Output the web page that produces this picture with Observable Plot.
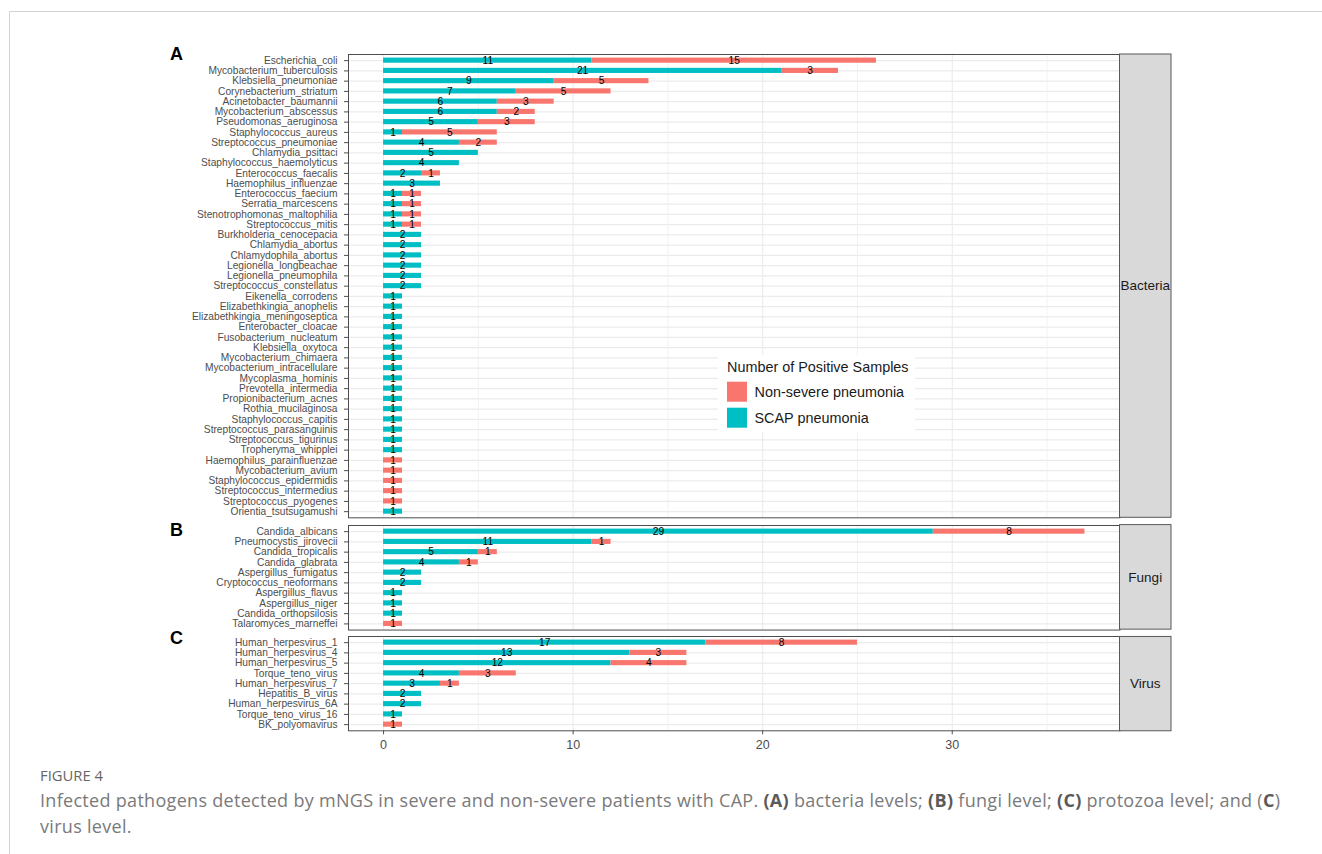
<!DOCTYPE html>
<html>
<head>
<meta charset="utf-8">
<script src="https://cdn.jsdelivr.net/npm/d3@7"></script>
<script src="https://cdn.jsdelivr.net/npm/@observablehq/plot@0.6"></script>
<style>
html, body { margin: 0; padding: 0; overflow: hidden; background: #fff; }
#page { position: relative; width: 1322px; height: 854px; overflow: hidden; font-family: "Liberation Sans", Arial, sans-serif; }
.panel { position: absolute; left: 0; }
.panel svg { display: block; }
.panel [aria-label^="x-axis"] text { font-size: 12.5px; }
#overlay { position: absolute; left: 0; top: 0; pointer-events: none; }
</style>
</head>
<body>
<div id="page"></div>
<script>
// ---------------- data ----------------
const seriesNames = ["SCAP pneumonia", "Non-severe pneumonia"];
const seriesColors = ["#00BFC4", "#F8766D"];
const legendTitle = "Number of Positive Samples";

const bacteriaNames = [
  "Escherichia_coli", "Mycobacterium_tuberculosis", "Klebsiella_pneumoniae", "Corynebacterium_striatum",
  "Acinetobacter_baumannii", "Mycobacterium_abscessus", "Pseudomonas_aeruginosa", "Staphylococcus_aureus",
  "Streptococcus_pneumoniae", "Chlamydia_psittaci", "Staphylococcus_haemolyticus", "Enterococcus_faecalis",
  "Haemophilus_influenzae", "Enterococcus_faecium", "Serratia_marcescens", "Stenotrophomonas_maltophilia",
  "Streptococcus_mitis", "Burkholderia_cenocepacia", "Chlamydia_abortus", "Chlamydophila_abortus",
  "Legionella_longbeachae", "Legionella_pneumophila", "Streptococcus_constellatus", "Eikenella_corrodens",
  "Elizabethkingia_anophelis", "Elizabethkingia_meningoseptica", "Enterobacter_cloacae", "Fusobacterium_nucleatum",
  "Klebsiella_oxytoca", "Mycobacterium_chimaera", "Mycobacterium_intracellulare", "Mycoplasma_hominis",
  "Prevotella_intermedia", "Propionibacterium_acnes", "Rothia_mucilaginosa", "Staphylococcus_capitis",
  "Streptococcus_parasanguinis", "Streptococcus_tigurinus", "Tropheryma_whipplei", "Haemophilus_parainfluenzae",
  "Mycobacterium_avium", "Staphylococcus_epidermidis", "Streptococcus_intermedius", "Streptococcus_pyogenes",
  "Orientia_tsutsugamushi"
];
const bacteriaSCAP = [
  11, 21, 9, 7, 6, 6, 5, 1, 4, 5, 4, 2, 3, 1, 1, 1, 1, 2, 2, 2, 2, 2, 2,
  1, 1, 1, 1, 1, 1, 1, 1, 1, 1, 1, 1, 1, 1, 1, 1, 0, 0, 0, 0, 0, 1
];
const bacteriaNonSevere = [
  15, 3, 5, 5, 3, 2, 3, 5, 2, 0, 0, 1, 0, 1, 1, 1, 1, 0, 0, 0, 0, 0, 0,
  0, 0, 0, 0, 0, 0, 0, 0, 0, 0, 0, 0, 0, 0, 0, 0, 1, 1, 1, 1, 1, 0
];

const fungiNames = [
  "Candida_albicans", "Pneumocystis_jirovecii", "Candida_tropicalis", "Candida_glabrata",
  "Aspergillus_fumigatus", "Cryptococcus_neoformans", "Aspergillus_flavus", "Aspergillus_niger",
  "Candida_orthopsilosis", "Talaromyces_marneffei"
];
const fungiSCAP = [29, 11, 5, 4, 2, 2, 1, 1, 1, 0];
const fungiNonSevere = [8, 1, 1, 1, 0, 0, 0, 0, 0, 1];

const virusNames = [
  "Human_herpesvirus_1", "Human_herpesvirus_4", "Human_herpesvirus_5", "Torque_teno_virus",
  "Human_herpesvirus_7", "Hepatitis_B_virus", "Human_herpesvirus_6A", "Torque_teno_virus_16",
  "BK_polyomavirus"
];
const virusSCAP = [17, 13, 12, 4, 3, 2, 2, 1, 0];
const virusNonSevere = [8, 3, 4, 3, 1, 0, 0, 0, 1];

const groupLabels = ["Bacteria", "Fungi", "Virus"];
const panelTags = ["A", "B", "C"];
const xMajorTicks = [0, 10, 20, 30];
const xMinorTicks = [5, 15, 25, 35];

const captionHead = "FIGURE 4";
const captionLine1 = [
  ["Infected pathogens detected by mNGS in severe and non-severe patients with CAP. ", false],
  ["(A)", true], [" bacteria levels; ", false], ["(B)", true], [" fungi level; ", false],
  ["(C)", true], [" protozoa level; and (", false], ["C", true], [")", false]
];
const captionLine2 = "virus level.";

// ---------------- layout ----------------
const W = 1322;
const step = 10.25;
const panelLeft = 348, panelRight = 1119.5, stripRight = 1171;
const gap = 7.3;
const firstTop = 54;
const font = '"Liberation Sans", Arial, Helvetica, sans-serif';

const groups = [
  {names: bacteriaNames, scap: bacteriaSCAP, non: bacteriaNonSevere},
  {names: fungiNames, scap: fungiSCAP, non: fungiNonSevere},
  {names: virusNames, scap: virusSCAP, non: virusNonSevere}
];
const maxTotal = d3.max(groups.flatMap(g => g.names.map((_, i) => g.scap[i] + g.non[i])));
const pad = maxTotal * 0.05;

const page = document.getElementById("page");
let panelTop = firstTop;
const panelBoxes = [];
groups.forEach((g, gi) => {
  const showAxis = gi === groups.length - 1;
  const rows = [];
  g.names.forEach((n, i) => { if (g.scap[i] > 0) rows.push({name: n, type: seriesNames[0], value: g.scap[i]}); });
  g.names.forEach((n, i) => { if (g.non[i] > 0) rows.push({name: n, type: seriesNames[1], value: g.non[i]}); });
  const ph = step * (g.names.length + 0.2);
  const mt = 1, mb = showAxis ? 34 : 1;
  const chart = Plot.plot({
    width: W,
    height: ph + mt + mb,
    marginLeft: panelLeft,
    marginRight: W - panelRight,
    marginTop: mt,
    marginBottom: mb,
    style: {fontFamily: font, fontSize: "10.2px", color: "#4d4d4d", background: "transparent", overflow: "visible"},
    x: {domain: [-pad, maxTotal + pad], ticks: xMajorTicks, tickSize: 4, tickPadding: 5, label: null, axis: showAxis ? "bottom" : null},
    y: {domain: g.names, round: false, paddingInner: 0.5, paddingOuter: 0.35, tickSize: 4, tickPadding: 7, label: null},
    color: {domain: seriesNames, range: seriesColors},
    marks: [
      Plot.ruleY(g.names, {stroke: "#ebebeb", strokeWidth: 1.1}),
      Plot.ruleX(xMinorTicks, {stroke: "#f0f0f0", strokeWidth: 0.8}),
      Plot.ruleX(xMajorTicks, {stroke: "#ebebeb", strokeWidth: 1.1}),
      Plot.barX(rows, Plot.stackX({x: "value", y: "name", fill: "type", order: seriesNames})),
      Plot.text(rows, Plot.stackX({x: "value", y: "name", z: "type", order: seriesNames, text: "value", fill: "#000", fontSize: 10.2})),
      Plot.frame({stroke: "#4d4d4d", strokeWidth: 1})
    ]
  });
  const div = document.createElement("div");
  div.className = "panel";
  div.style.top = (panelTop - mt) + "px";
  div.appendChild(chart);
  page.appendChild(div);
  panelBoxes.push({top: panelTop, height: ph});
  panelTop += ph + gap;
});

// ---------------- overlay: strips, tags, legend, caption ----------------
const svg = d3.select(page).append("svg")
  .attr("id", "overlay").attr("width", W).attr("height", 854)
  .style("font-family", font);

// card border
svg.append("line").attr("x1", 9.5).attr("x2", W).attr("y1", 11.5).attr("y2", 11.5).attr("stroke", "#d2d2d2");
svg.append("line").attr("x1", 9.5).attr("x2", 9.5).attr("y1", 11.5).attr("y2", 854).attr("stroke", "#d2d2d2");

// strips
const tagBaselines = [60, 535.7, 644];
panelBoxes.forEach((b, i) => {
  svg.append("rect").attr("x", panelRight).attr("y", b.top).attr("width", stripRight - panelRight).attr("height", b.height)
    .attr("fill", "#d9d9d9").attr("stroke", "#595959").attr("stroke-width", 1);
  svg.append("text").attr("x", (panelRight + stripRight) / 2).attr("y", b.top + b.height / 2)
    .attr("text-anchor", "middle").attr("dy", "0.35em").attr("font-size", 13.5).attr("fill", "#1a1a1a")
    .text(groupLabels[i]);
  svg.append("text").attr("x", 170).attr("y", tagBaselines[i])
    .attr("font-size", 18).attr("font-weight", "bold").attr("fill", "#000")
    .text(panelTags[i]);
});

// legend
const lg = svg.append("g");
lg.append("rect").attr("x", 718).attr("y", 355).attr("width", 197).attr("height", 77).attr("fill", "#fff");
lg.append("text").attr("x", 727).attr("y", 366.7).attr("dy", "0.35em").attr("font-size", 14.4).attr("fill", "#1a1a1a").text(legendTitle);
[1, 0].forEach((si, k) => {
  const y0 = 381.7 + k * 26;
  lg.append("rect").attr("x", 727).attr("y", y0).attr("width", 20).attr("height", 20).attr("fill", seriesColors[si]);
  lg.append("text").attr("x", 754.5).attr("y", y0 + 10).attr("dy", "0.35em").attr("font-size", 14.4).attr("fill", "#1a1a1a").text(seriesNames[si]);
});

// caption
const capFont = '"Open Sans", "Noto Sans", sans-serif';
svg.append("text").attr("x", 40).attr("y", 781).attr("font-family", capFont).attr("font-size", 14.8).attr("fill", "#666").text(captionHead);
const l1 = svg.append("text").attr("x", 40).attr("y", 806.5).attr("font-family", capFont).attr("font-size", 18)
  .attr("letter-spacing", "0.3px").attr("fill", "#7a7a7a");
captionLine1.forEach(([t, b]) => {
  l1.append("tspan").attr("font-weight", b ? "bold" : null).attr("fill", b ? "#5a5a5a" : null).text(t);
});
svg.append("text").attr("x", 40).attr("y", 832.5).attr("font-family", capFont).attr("font-size", 18)
  .attr("letter-spacing", "0.3px").attr("fill", "#7a7a7a").text(captionLine2);
</script>
</body>
</html>
